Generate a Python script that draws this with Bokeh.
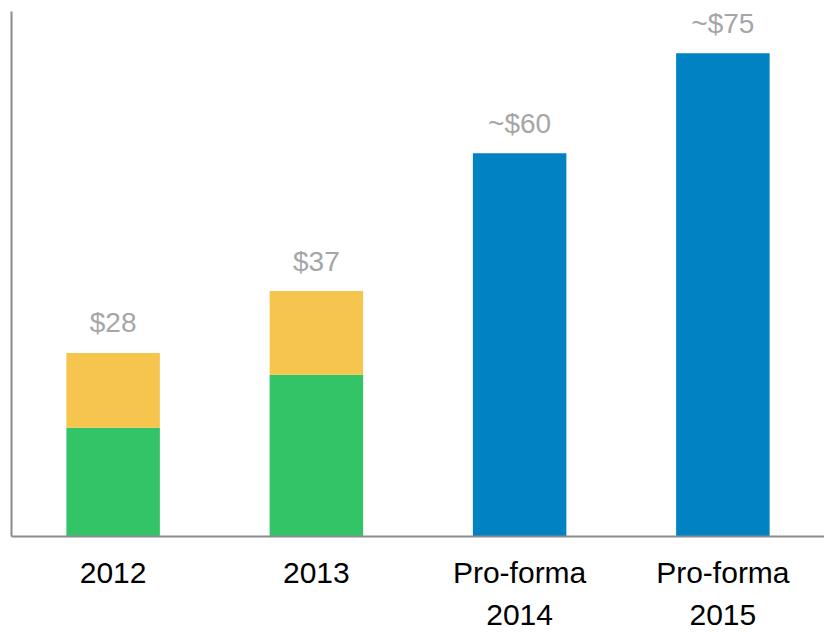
from bokeh.plotting import figure
from bokeh.models import ColumnDataSource, Range1d, FactorRange
from bokeh.embed import file_html
from bokeh.resources import INLINE
from bokeh.core.properties import value

categories = ["2012", "2013", "Pro-forma\n2014", "Pro-forma\n2015"]
green_vals = [16.9, 25.1, 0, 0]
yellow_vals = [11.6, 13.0, 0, 0]
blue_vals = [0, 0, 59.5, 75.0]
label_texts = ["$28", "$37", "~$60", "~$75"]

totals = [g + y + b for g, y, b in zip(green_vals, yellow_vals, blue_vals)]

src = ColumnDataSource(dict(cat=categories, green=green_vals, yellow=yellow_vals,
                            blue=blue_vals, total=totals, lab=label_texts))

p = figure(x_range=FactorRange(*categories), y_range=Range1d(0, 81.5),
           width=824, height=634, output_backend="svg", toolbar_location=None,
           min_border_left=11, min_border_right=0, min_border_top=11, min_border_bottom=0)

p.vbar_stack(["green", "yellow", "blue"], x="cat", width=0.46, source=src,
             color=["#34C468", "#F5C54D", "#0082C3"], line_color=None)

p.text(x="cat", y="total", text="lab", source=src, y_offset=-30,
       text_align="center", text_baseline="middle", text_color="#A6A6A6",
       text_font=value("Liberation Sans"), text_font_size="28px")

p.grid.visible = False
p.outline_line_color = None
p.x_range.range_padding = 0

for ax in (p.xaxis, p.yaxis):
    ax.axis_line_color = "#8C8C8C"
    ax.axis_line_width = 2
    ax.major_tick_line_color = None
    ax.minor_tick_line_color = None
    ax.major_tick_out = 0
    ax.major_tick_in = 0
    ax.minor_tick_out = 0
    ax.minor_tick_in = 0

p.yaxis.major_label_text_font_size = "0px"
p.yaxis.major_label_standoff = 0

p.xaxis.major_label_text_font = "Liberation Sans"
p.xaxis.major_label_text_font_size = "30px"
p.xaxis.major_label_text_color = "black"
p.xaxis.major_label_standoff = 19
p.xaxis.major_label_text_line_height = 1.3

open("out.html", "w").write(file_html(p, INLINE))
